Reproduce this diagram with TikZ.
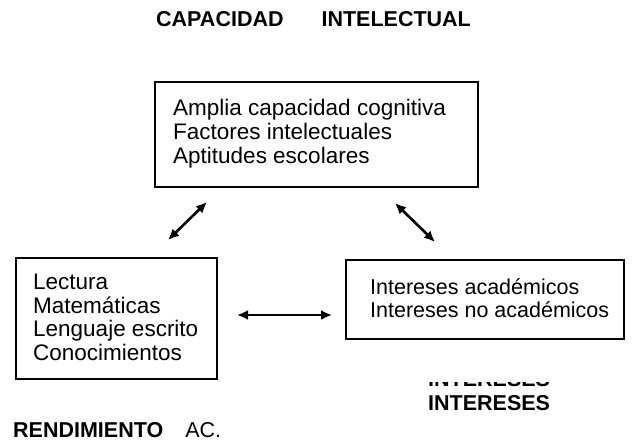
\documentclass[tikz,border=0pt]{standalone}
\usepackage{fontspec}
\setmainfont{Liberation Sans}
\usetikzlibrary{arrows.meta}
\tikzset{
  box/.style={draw, line width=1.8pt, rectangle, inner sep=0pt},
  body/.style={font=\fontsize{22.5}{#1}\selectfont, align=left, inner sep=0pt, anchor=north west},
  bodysmall/.style={font=\fontsize{21.5}{#1}\selectfont, align=left, inner sep=0pt, anchor=north west},
  label/.style={font=\fontsize{21.5}{24}\selectfont\bfseries, inner sep=0pt, anchor=base west},
  link/.style={line width=2.6pt, {Latex[length=11pt,width=10pt]}-{Latex[length=11pt,width=10pt]}}
}
\begin{document}
\begin{tikzpicture}[x=1pt,y=-1pt]
\useasboundingbox (0,0) rectangle (637,441);
% title
\node[label] (title) at (156,27) {CAPACIDAD\hspace{38pt}INTELECTUAL};
% boxes
\node[box, minimum width=323pt, minimum height=105pt, anchor=north west] (cap) at (154,81) {};
\node[body=24pt] (captxt) at (173,99) {Amplia capacidad cognitiva\\Factores intelectuales\\Aptitudes escolares};
\node[box, minimum width=201pt, minimum height=121pt, anchor=north west] (ren) at (15,257) {};
\node[body=23.5pt] (rentxt) at (33,274) {Lectura\\Matemáticas\\Lenguaje escrito\\Conocimientos};
\node[box, minimum width=278pt, minimum height=79pt, anchor=north west] (int) at (345,259) {};
\node[bodysmall=23pt] (inttxt) at (370,278) {Intereses académicos\\Intereses no académicos};
% arrows
\coordinate (a1) at (168,240); \coordinate (a2) at (207,202);
\coordinate (b1) at (395,203); \coordinate (b2) at (435,242);
\coordinate (c1) at (237,315); \coordinate (c2) at (332,315);
\draw[link] (a1) -- (a2);
\draw[link] (b1) -- (b2);
\draw[link] (c1) -- (c2);
% labels
\begin{scope}
\clip (420,382) rectangle (570,386.5);
\node[label] (intghost) at (428,386) {INTERESES};
\end{scope}
\node[label] (intlab) at (428,410) {INTERESES};
\node[label] (renlab) at (13,437) {RENDIMIENTO\hspace{22pt}{\mdseries AC.}};
\end{tikzpicture}
\end{document}
